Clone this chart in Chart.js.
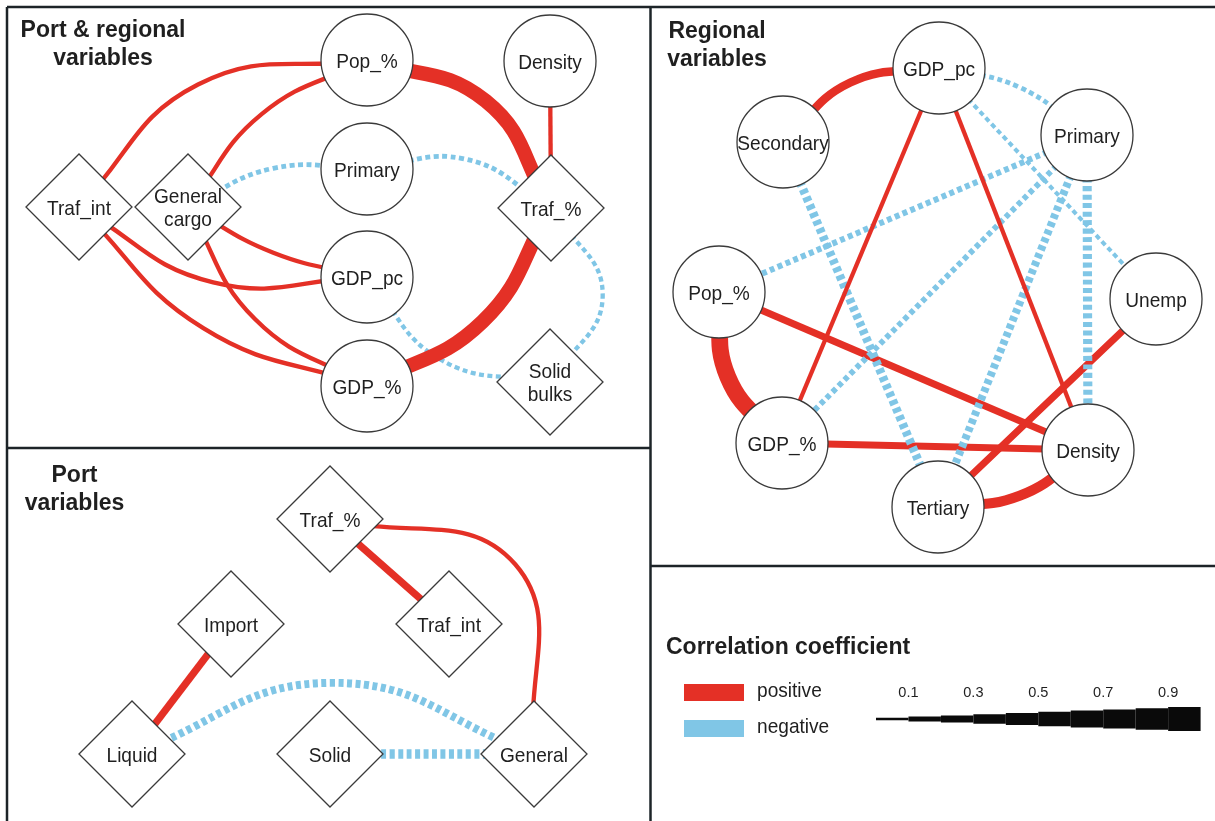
<!DOCTYPE html>
<html><head><meta charset="utf-8">
<script src="https://cdn.jsdelivr.net/npm/chart.js@4.4.1/dist/chart.umd.min.js"></script>
<style>html,body{margin:0;padding:0;background:#fff;}canvas{display:block;}</style>
</head><body>
<canvas id="c" width="1215" height="821" style="width:1215px;height:821px"></canvas>
<script>
// ================= DATA =================
// Panel A : Port & regional variables
const aNodes = ['Pop_%','Density','Primary','GDP_pc','GDP_%','Traf_int','General cargo','Traf_%','Solid bulks'];
const aKind  = ['regional','regional','regional','regional','regional','port','port','port','port'];
const aX     = [367,550,367,367,367,79,188,551,550];
const aY     = [60,61,169,277,386,207,207,208,382];
const aFrom  = ['Traf_int','General cargo','General cargo','Primary','Pop_%','Traf_%','Density','Traf_%','GDP_pc','Traf_int','Traf_int','General cargo','General cargo'];
const aTo    = ['Pop_%','Pop_%','Primary','Traf_%','Traf_%','GDP_%','Traf_%','Solid bulks','Solid bulks','GDP_pc','GDP_%','GDP_pc','GDP_%'];
const aR     = [0.18,0.18,-0.2,-0.2,0.6,0.6,0.18,-0.18,-0.18,0.18,0.18,0.18,0.18];
const aBend  = [-0.17,-0.108,-0.11,-0.16,-0.18,-0.133,0,-0.3,0.166,0.14,0.11,0.06,0.126];

// Panel B : Regional variables
const bNodes = ['GDP_pc','Secondary','Primary','Pop_%','Unemp','GDP_%','Density','Tertiary'];
const bKind  = ['regional','regional','regional','regional','regional','regional','regional','regional'];
const bX     = [939,783,1087,719,1156,782,1088,938];
const bY     = [68,142,135,292,299,443,450,507];
const bFrom  = ['Secondary','GDP_pc','GDP_pc','GDP_pc','GDP_pc','Secondary','Primary','Primary','Primary','Primary','Pop_%','Pop_%','GDP_%','Unemp','Tertiary'];
const bTo    = ['GDP_pc','GDP_%','Density','Primary','Unemp','Tertiary','Pop_%','GDP_%','Tertiary','Density','GDP_%','Density','Density','Tertiary','Density'];
const bR     = [0.35,0.18,0.18,-0.2,-0.17,-0.36,-0.25,-0.24,-0.33,-0.38,0.7,0.3,0.3,0.3,0.42];
const bBend  = [-0.144,0,0,-0.096,0,0,0,0,0,0,0.15,0,0,0,0.115];

// Panel C : Port variables
const cNodes = ['Traf_%','Traf_int','Import','Liquid','Solid','General'];
const cKind  = ['port','port','port','port','port','port'];
const cX     = [330,449,231,132,330,534];
const cY     = [519,624,624,754,754,754];
const cFrom  = ['Traf_%','Traf_%','Import','Liquid','Solid'];
const cTo    = ['Traf_int','General','Liquid','General','General'];
const cR     = [0.3,0.18,0.3,-0.33,-0.4];
const cBend  = [0,-0.354,0,-0.177,0];

// Legend
const legendBins   = [0.1,0.2,0.3,0.4,0.5,0.6,0.7,0.8,0.9,1.0];
const legendTicks  = [0.1,0.3,0.5,0.7,0.9];
const legendTickLabels = ['0.1','0.3','0.5','0.7','0.9'];
const signLabels = ['positive','negative'];

// ================= STYLE / LAYOUT =================
const RED = 'rgb(228,48,38)';
const BLUE = 'rgb(128,198,230)';
const INK = '#1f1f1f';
const FONT = "'Liberation Sans', Arial, Helvetica, sans-serif";
const widthOf = r => 24 * Math.abs(r);
const CIRCLE_R = 46, DIAMOND_R = 53;
const WEDGE = {x0: 876, x1: 1200.6, y: 719};
const SWATCH = {x0: 684, x1: 744, y: [692.5, 728.5], w: 17};

const panels = [
  {nodes:aNodes, kind:aKind, X:aX, Y:aY, from:aFrom, to:aTo, r:aR, bend:aBend},
  {nodes:bNodes, kind:bKind, X:bX, Y:bY, from:bFrom, to:bTo, r:bR, bend:bBend},
  {nodes:cNodes, kind:cKind, X:cX, Y:cY, from:cFrom, to:cTo, r:cR, bend:cBend}
];

const datasets = [];
const nodeSets = [];
panels.forEach(p => {
  p.from.forEach((f, k) => {
    const i = p.nodes.indexOf(f), j = p.nodes.indexOf(p.to[k]);
    const ax = p.X[i], ay = p.Y[i], bx = p.X[j], by = p.Y[j];
    const b = p.bend[k];
    const pts = [{x: ax, y: ay}];
    if (b) pts.push({x: (ax + bx) / 2 - (by - ay) * b, y: (ay + by) / 2 + (bx - ax) * b});
    pts.push({x: bx, y: by});
    const r = p.r[k];
    datasets.push({
      type: 'line', data: pts, order: 5,
      borderColor: r > 0 ? RED : BLUE,
      borderWidth: widthOf(r),
      borderDash: r > 0 ? [] : [5, 3.5],
      borderCapStyle: 'butt',
      tension: 0.45, pointRadius: 0, fill: false
    });
  });
  nodeSets.push(datasets.length);
  datasets.push({
    type: 'scatter', order: 0,
    data: p.X.map((x, i) => ({x: x, y: p.Y[i]})),
    pointStyle: p.kind.map(k => k === 'port' ? 'rectRot' : 'circle'),
    pointRadius: p.kind.map(k => k === 'port' ? DIAMOND_R : CIRCLE_R),
    backgroundColor: '#ffffff', borderColor: '#3a3a3a', borderWidth: 1.3,
    labelsText: p.nodes
  });
});

// legend wedge (stepped by bin)
legendBins.forEach((v, k) => {
  const lo = k === 0 ? 0 : legendBins[k - 1];
  datasets.push({
    type: 'line', order: 5,
    data: [{x: WEDGE.x0 + lo * (WEDGE.x1 - WEDGE.x0), y: WEDGE.y}, {x: WEDGE.x0 + v * (WEDGE.x1 - WEDGE.x0), y: WEDGE.y}],
    borderColor: '#0a0a0a', borderWidth: widthOf(v), borderCapStyle: 'butt', pointRadius: 0, tension: 0
  });
});
// legend swatches
signLabels.forEach((s, k) => {
  datasets.push({
    type: 'line', order: 5,
    data: [{x: SWATCH.x0, y: SWATCH.y[k]}, {x: SWATCH.x1, y: SWATCH.y[k]}],
    borderColor: k === 0 ? RED : BLUE, borderWidth: SWATCH.w, borderCapStyle: 'butt', pointRadius: 0
  });
});

function txt(ctx, s, x, y, font, align, sx) {
  ctx.save();
  ctx.font = font; ctx.fillStyle = INK; ctx.textAlign = align || 'left'; ctx.textBaseline = 'alphabetic';
  ctx.translate(x, y); ctx.scale(sx || 1, 1);
  ctx.fillText(s, 0, 0);
  ctx.restore();
}

const decor = {
  id: 'decor',
  afterDatasetsDraw(chart) {
    const ctx = chart.ctx, X = chart.scales.x, Y = chart.scales.y;
    const px = v => X.getPixelForValue(v), py = v => Y.getPixelForValue(v);
    // panel frames
    ctx.save();
    ctx.strokeStyle = '#1d2428'; ctx.lineWidth = 2.5;
    [[7,7,1215,7],[7,7,7,821],[650.5,7,650.5,821],[7,448,650.5,448],[650.5,566,1215,566]].forEach(l => {
      ctx.beginPath(); ctx.moveTo(px(l[0]), py(l[1])); ctx.lineTo(px(l[2]), py(l[3])); ctx.stroke();
    });
    ctx.restore();
    // node labels
    const NF = '21px ' + FONT;
    nodeSets.forEach(di => {
      const meta = chart.getDatasetMeta(di);
      const names = chart.data.datasets[di].labelsText;
      meta.data.forEach((el, i) => {
        const lines = names[i].split(' ');
        const base = el.y + 7.6 - (lines.length - 1) * 11.3;
        lines.forEach((ln, j) => txt(ctx, ln, el.x, base + j * 22.6, NF, 'center', 0.91));
      });
    });
    // titles
    const TF = 'bold 23px ' + FONT;
    txt(ctx, 'Port & regional', px(103), py(37), TF, 'center');
    txt(ctx, 'variables', px(103), py(65), TF, 'center');
    txt(ctx, 'Regional', px(717), py(38), TF, 'center');
    txt(ctx, 'variables', px(717), py(66), TF, 'center');
    txt(ctx, 'Port', px(74.5), py(482), TF, 'center');
    txt(ctx, 'variables', px(74.5), py(510), TF, 'center');
    // legend
    txt(ctx, 'Correlation coefficient', px(666), py(654), TF, 'left');
    signLabels.forEach((s, k) => txt(ctx, s, px(757), py(SWATCH.y[k] + 4.5), '21px ' + FONT, 'left', 0.91));
    legendTicks.forEach((v, k) => txt(ctx, legendTickLabels[k], px(WEDGE.x0 + v * (WEDGE.x1 - WEDGE.x0)), py(696.5), '15px ' + FONT, 'center', 0.97));
  }
};

new Chart(document.getElementById('c'), {
  type: 'scatter',
  data: {datasets: datasets},
  options: {
    responsive: false, animation: false, events: [],
    layout: {padding: 0, autoPadding: false},
    scales: {
      x: {type: 'linear', min: 0, max: 1215, display: false},
      y: {type: 'linear', min: 0, max: 821, reverse: true, display: false}
    },
    plugins: {legend: {display: false}, tooltip: {enabled: false}}
  },
  plugins: [decor]
});
</script>
</body></html>
